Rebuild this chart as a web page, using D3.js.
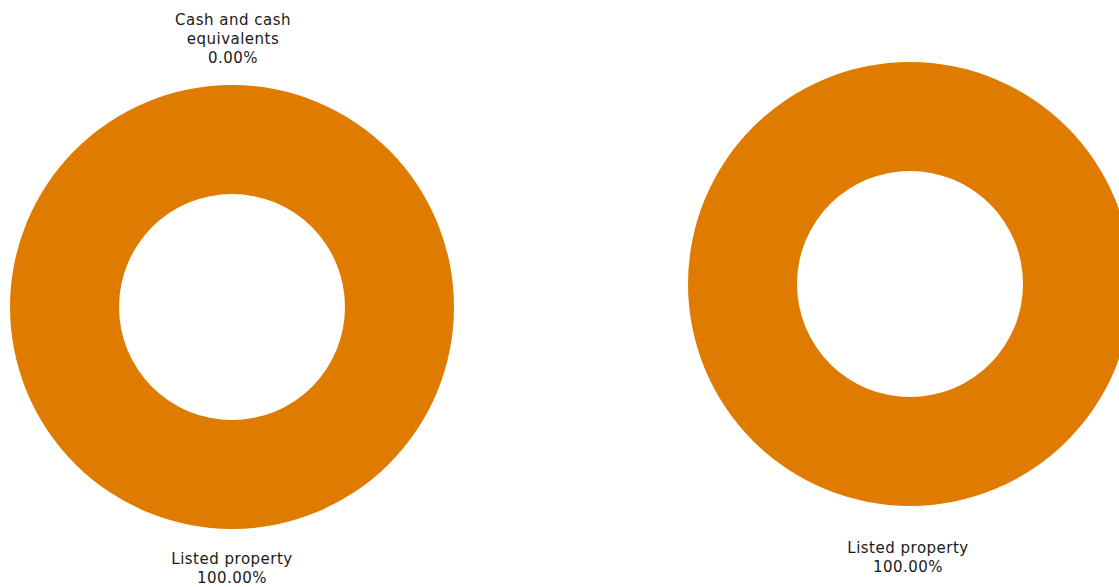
<!DOCTYPE html>
<html>
<head>
<meta charset="utf-8">
<script src="https://cdn.jsdelivr.net/npm/d3@7"></script>
<style>
  body { margin: 0; background: #fff; }
  text { font-family: "DejaVu Sans", Verdana, sans-serif; font-size: 15px; letter-spacing: 0.5px; fill: #1a1a1a; }
</style>
</head>
<body>
<div id="chart"></div>
<script>
const WIDTH = 1119
const HEIGHT = 587
const OUTER_R = 222
const INNER_R = 113
const FILL_COLOR = '#DF7C00'

// left chart
const leftCategories = ['Cash and cash equivalents', 'Listed property']
const leftValues = [0, 100]
const leftLabels = [['Cash and cash', 'equivalents', '0.00%'], ['Listed property', '100.00%']]

// right chart
const rightCategories = ['Listed property']
const rightValues = [100]
const rightLabels = [['Listed property', '100.00%']]

var svg = d3.select('#chart').append('svg')
  .attr('width', WIDTH)
  .attr('height', HEIGHT)

var pie = d3.pie().sort(null).value(d => d.value)
var arc = d3.arc().innerRadius(INNER_R).outerRadius(OUTER_R)

function drawDonut (cx, cy, categories, values, labels, labelPos) {
  var data = categories.map((c, i) => ({ name: c, value: values[i], label: labels[i] }))
  var g = svg.append('g').attr('transform', 'translate(' + cx + ',' + cy + ')')
  var arcs = pie(data)
  g.selectAll('path')
    .data(arcs)
    .enter().append('path')
    .attr('d', arc)
    .attr('fill', FILL_COLOR)

  // labels, placed above or below the ring
  arcs.forEach((a, i) => {
    var pos = labelPos[i]
    var t = g.append('text')
      .attr('text-anchor', 'middle')
      .attr('transform', 'translate(' + pos[0] + ',' + pos[1] + ')')
    a.data.label.forEach((line, j) => {
      t.append('tspan')
        .attr('x', 0)
        .attr('dy', j === 0 ? 0 : 19)
        .text(line)
    })
  })
}

drawDonut(232, 307, leftCategories, leftValues, leftLabels, [[1, -282], [0, 257]])
drawDonut(910, 284, rightCategories, rightValues, rightLabels, [[-2, 269]])
</script>
</body>
</html>
